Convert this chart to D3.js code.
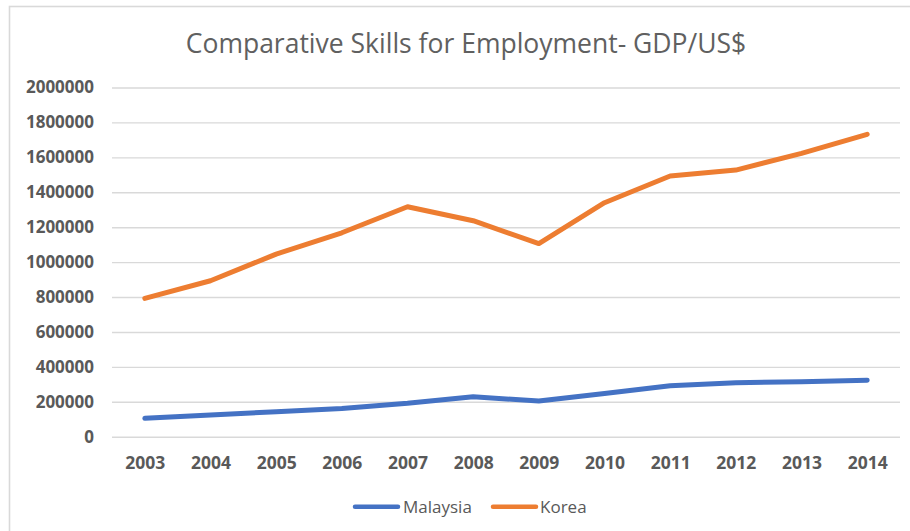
<!DOCTYPE html>
<html>
<head>
<meta charset="utf-8">
<script src="https://cdn.jsdelivr.net/npm/d3@7"></script>
<style>
  html, body { margin: 0; padding: 0; background: #fff; }
  svg { display: block; }
</style>
</head>
<body>
<svg id="chart" width="910" height="531"></svg>
<script>
// GDP (US$) by year, two countries
const years = ["2003","2004","2005","2006","2007","2008","2009","2010","2011","2012","2013","2014"];
const malaysia = [105000, 124000, 143000, 162000, 191000, 229000, 204000, 248000, 292000, 309000, 315000, 324000];
const korea = [792000, 893000, 1046000, 1168000, 1317000, 1237000, 1106000, 1340000, 1493000, 1527000, 1623000, 1732000];
const yTicks = [0, 200000, 400000, 600000, 800000, 1000000, 1200000, 1400000, 1600000, 1800000, 2000000];
const seriesNames = ["Malaysia", "Korea"];

const series = [
  { name: seriesNames[0], values: malaysia, color: "#4472C4" },
  { name: seriesNames[1], values: korea, color: "#ED7D31" }
];

const svg = d3.select("#chart");
const textColor = "#595959";
const gridColor = "#d9d9d9";

// outer chart frame
svg.append("rect")
  .attr("x", 9.5).attr("y", 6.5)
  .attr("width", 920).attr("height", 540)
  .attr("fill", "#fff")
  .attr("stroke", gridColor)
  .attr("stroke-width", 1.6);

const plotLeft = 112, plotRight = 900, plotTop = 87.5, plotBottom = 436.7;

const x = d3.scalePoint().domain(years).range([plotLeft, plotRight]).padding(0.5);
const y = d3.scaleLinear().domain([0, 2000000]).range([plotBottom, plotTop]);

// title
svg.append("text")
  .attr("x", 466).attr("y", 52.5)
  .attr("text-anchor", "middle")
  .attr("font-family", "'Open Sans', sans-serif")
  .attr("font-size", 26.5)
  .attr("fill", "#606060")
  .text("Comparative Skills for Employment- GDP/US$");

// horizontal gridlines + y labels via axis
const yAxis = d3.axisLeft(y)
  .tickValues(yTicks)
  .tickSize(-(plotRight - plotLeft))
  .tickPadding(18)
  .tickFormat(d3.format("d"));

const gY = svg.append("g")
  .attr("transform", `translate(${plotLeft},0)`)
  .call(yAxis);
gY.select(".domain").remove();
gY.selectAll(".tick line")
  .attr("stroke", gridColor)
  .attr("stroke-width", 1.4);
gY.selectAll(".tick text")
  .attr("font-family", "'Open Sans', sans-serif")
  .attr("font-weight", "bold")
  .attr("font-size", 17)
  .attr("fill", textColor);

// x labels via axis
const xAxis = d3.axisBottom(x).tickSize(0).tickPadding(0);
const gX = svg.append("g")
  .attr("transform", `translate(0,${plotBottom})`)
  .call(xAxis);
gX.select(".domain").remove();
gX.selectAll(".tick text")
  .attr("dy", 0)
  .attr("y", 32.6)
  .attr("font-family", "'Open Sans', sans-serif")
  .attr("font-weight", "bold")
  .attr("font-size", 17.5)
  .attr("fill", textColor);

// series lines
const line = d3.line()
  .x((d, i) => x(years[i]))
  .y(d => y(d));

svg.append("g").selectAll("path")
  .data(series)
  .join("path")
  .attr("d", d => line(d.values))
  .attr("fill", "none")
  .attr("stroke", d => d.color)
  .attr("stroke-width", 5)
  .attr("stroke-linecap", "round")
  .attr("stroke-linejoin", "round");

// legend
const legendItems = [
  { x1: 355, x2: 398, tx: 403 },
  { x1: 493, x2: 536, tx: 540 }
];
const lg = svg.append("g");
series.forEach((s, i) => {
  const p = legendItems[i];
  lg.append("line")
    .attr("x1", p.x1).attr("x2", p.x2)
    .attr("y1", 506.7).attr("y2", 506.7)
    .attr("stroke", s.color)
    .attr("stroke-width", 4.5)
    .attr("stroke-linecap", "round");
  lg.append("text")
    .attr("x", p.tx).attr("y", 512.7)
    .attr("font-family", "'Open Sans', sans-serif")
    .attr("font-size", 17)
    .attr("fill", textColor)
    .text(s.name);
});
</script>
</body>
</html>
